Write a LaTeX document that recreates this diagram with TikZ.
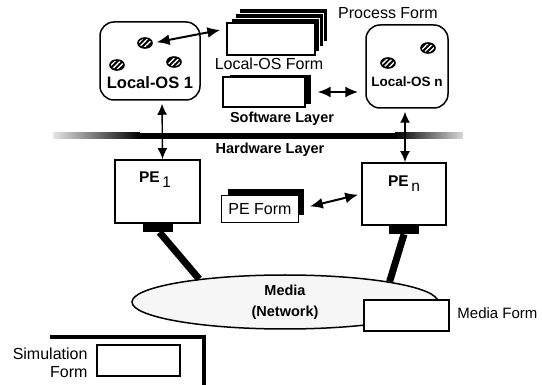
\documentclass[tikz,border=0pt]{standalone}
\usepackage{fontspec}
\setmainfont{Liberation Sans}
\usetikzlibrary{arrows.meta,calc,shapes.geometric,patterns.meta}

\tikzset{
  txt/.style={font=\fontsize{16}{18}\selectfont},
  btxt/.style={font=\fontsize{14.5}{21}\selectfont\bfseries},
  oslbl/.style={font=\fontsize{15.5}{18}\selectfont\bfseries},
  osbox/.style={draw, line width=1.5pt, rounded corners=14pt},
  pebox/.style={draw, line width=1.8pt},
  form/.style={draw, line width=1.3pt, fill=white, inner sep=0pt},
  formback/.style={draw=white, line width=0.6pt, fill=black, inner sep=0pt},
  hatched/.style={ellipse, draw, line width=1.6pt, minimum width=14pt, minimum height=10pt, inner sep=0pt,
    preaction={fill=black}, pattern={Lines[angle=45,distance=3.6pt,line width=1.4pt]}, pattern color=white},
  stub/.style={fill=black, minimum width=30pt, minimum height=8pt, inner sep=0pt},
  cable/.style={line width=7pt},
  dbl/.style={{Latex[length=13pt,width=11pt]}-{Latex[length=13pt,width=11pt]}, line width=2pt},
  vdbl/.style={{Latex[length=11pt,width=10pt]}-{Latex[length=11pt,width=10pt]}, line width=1.4pt},
}

\begin{document}
\begin{tikzpicture}[x=1pt,y=-1pt]
\useasboundingbox (0,0) rectangle (542,385);

% local operating systems
\node[osbox, minimum width=100pt, minimum height=78pt] (os1) at (150,61) {};
\node[oslbl, font=\fontsize{16.5}{18}\selectfont\bfseries] (os1lbl) at (150,83) {Local-OS 1};
\node[hatched] (p11) at (145,43) {};
\node[hatched] (p12) at (117,65) {};
\node[hatched] (p13) at (174,62) {};
\node[osbox, minimum width=82pt, minimum height=83pt] (osn) at (407,66.5) {};
\node[oslbl, font=\fontsize{13.5}{18}\selectfont\bfseries] (osnlbl) at (407,82) {Local-OS n};
\node[hatched] (pn1) at (428,48) {};
\node[hatched] (pn2) at (388,63) {};

% forms of the software layer
\coordinate (pf) at (271,39);
\node[formback, minimum width=88pt, minimum height=33pt] at ([shift={(12,-14)}]pf) {};
\node[formback, minimum width=88pt, minimum height=33pt] at ([shift={(8,-9)}]pf) {};
\node[formback, minimum width=88pt, minimum height=33pt] at ([shift={(4,-4)}]pf) {};
\node[form, minimum width=88pt, minimum height=32pt] (procform) at (pf) {};
\node[txt] (proclbl) at (388,13) {Process Form};

\coordinate (lf) at (264,92);
\node[formback, minimum width=82pt, minimum height=30pt] at ([shift={(6,-3)}]lf) {};
\node[form, minimum width=82pt, minimum height=30pt] (osform) at (lf) {};
\node[txt] (osformlbl) at (269,64) {Local-OS Form};

\node[btxt] (swlbl) at (282,119) {Software Layer};
\node[btxt] (hwlbl) at (270,150) {Hardware Layer};

% layer boundary
\shade[left color=gray!20, right color=black] (53,133) rectangle (140,139);
\fill (140,133) rectangle (395,139);
\shade[left color=black, right color=gray!30] (395,133) rectangle (463,139);

% processing elements
\node[pebox, minimum width=85pt, minimum height=63pt] (pe1) at (157.5,191.5) {};
\node[oslbl] (pe1lbl) at (155,180) {PE\,\raisebox{-5pt}{\mdseries 1}};
\node[pebox, minimum width=84pt, minimum height=62pt] (pen) at (404,194) {};
\node[oslbl] (penlbl) at (404,184) {PE\,\raisebox{-5pt}{\mdseries n}};

\coordinate (ef) at (260,209);
\node[formback, minimum width=77pt, minimum height=27pt] at ([shift={(6,-7)}]ef) {};
\node[form, minimum width=77pt, minimum height=27pt, txt] (peform) at (ef) {PE Form};

% arrows
\draw[dbl, shorten <=4pt] (p11.east) -- ([xshift=-6pt,yshift=9pt]procform.west);
\draw[dbl, shorten <=12pt, shorten >=7pt] (osform.east) -- (osn.west |- osform.east);
\draw[dbl, shorten <=11pt, shorten >=3pt] (peform.east) -- (pen.west);
\draw[vdbl, shorten <=3pt] ($(os1.south)+(12,0)$) -- ($(pe1.north)+(5,0)$);
\draw[vdbl, shorten <=3pt] ($(osn.south)+(-2,0)$) -- ($(pen.north)+(1,0)$);

% network
\node[ellipse, draw, line width=1.5pt, fill=gray!7, minimum width=306pt, minimum height=54pt,
      inner sep=0pt, btxt, align=center] (media) at (285,302) {Media\\(Network)};
\node[stub, anchor=north] (stub1) at (pe1.south) {};
\node[stub, anchor=north] (stubn) at (pen.south) {};
\draw[cable] ($(stub1.south)+(2,0)$) -- (media.165);
\draw[cable] (stubn.south) -- (media.11);
\node[form, minimum width=85pt, minimum height=31pt] (mediaform) at (406.5,315.5) {};
\node[txt, font=\fontsize{15}{18}\selectfont, anchor=east] (mediaformlbl) at (541,313) {Media Form};

% simulation
\draw[line width=4pt] (50,337) -| (204,386);
\node[form, minimum width=83pt, minimum height=31pt] (simform) at (138.5,360.5) {};
\node[txt, align=right, anchor=east] (simlbl) at (91,363) {Simulation\\Form};
\end{tikzpicture}
\end{document}
